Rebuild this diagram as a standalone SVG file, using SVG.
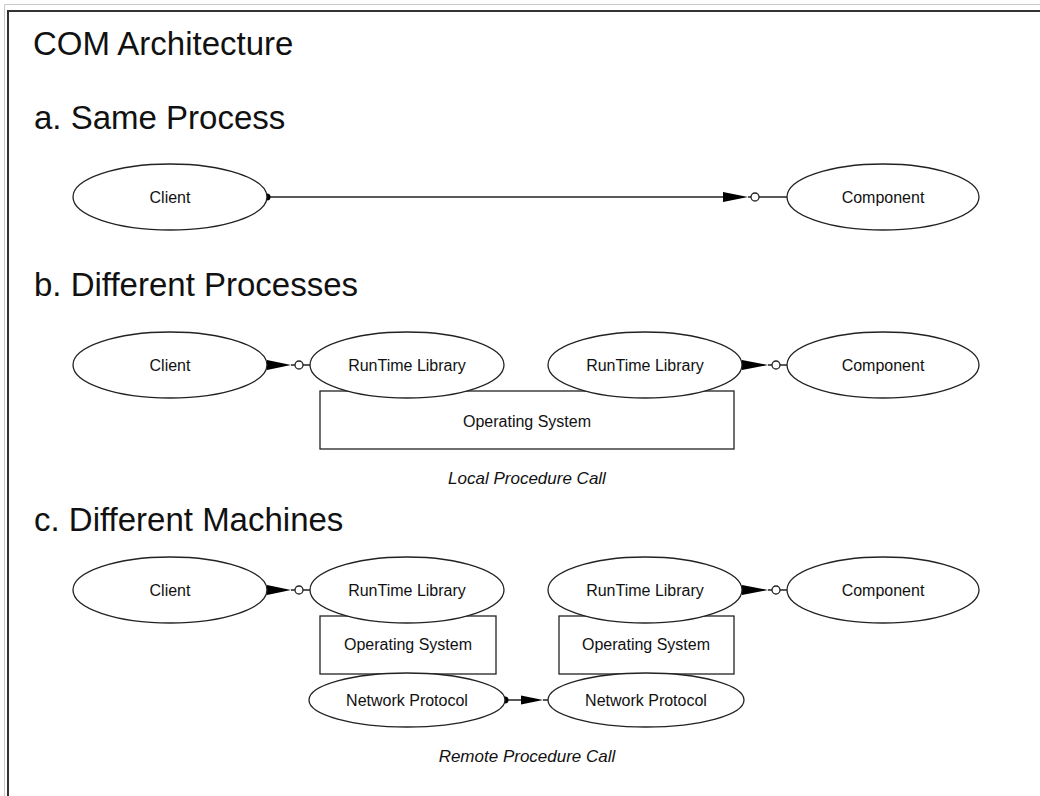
<svg xmlns="http://www.w3.org/2000/svg" width="1040" height="796" viewBox="0 0 1040 796">
<style>
.bg{fill:#fff}
.node ellipse,.node rect{fill:#fff;stroke:#222;stroke-width:1.3}
.lbl{font-family:"Liberation Sans",Arial,sans-serif;font-size:16px;fill:#111;text-anchor:middle;dominant-baseline:central}
.head{font-family:"Liberation Sans",Arial,sans-serif;font-size:33px;fill:#111}
.cap{font-family:"Liberation Sans",Arial,sans-serif;font-size:17px;font-style:italic;fill:#111;text-anchor:middle}
.ln{stroke:#222;stroke-width:1.5;fill:none}
.head-fill{fill:#000;stroke:none}
.ring{fill:#fff;stroke:#222;stroke-width:1.3}
</style>
<rect class="bg" x="0" y="0" width="1040" height="796"/>
<g id="frame">
<path d="M4.5,796 V4.5 H1040" stroke="#c8c8c8" stroke-width="1" fill="none"/>
<path d="M8,796 V11 H1040" stroke="#333" stroke-width="2" fill="none"/>
</g>
<g id="titles">
<text class="head" x="33" y="55">COM Architecture</text>
<text class="head" x="34" y="129">a. Same Process</text>
<text class="head" x="34" y="296">b. Different Processes</text>
<text class="head" x="34" y="531">c. Different Machines</text>
<text class="cap" x="527" y="484">Local Procedure Call</text>
<text class="cap" x="527" y="762">Remote Procedure Call</text>
</g>
<g id="connectors">
<line class="ln" x1="267" y1="197" x2="723" y2="197"/>
<circle class="head-fill" cx="267" cy="197" r="3.5"/>
<polygon class="head-fill" points="723,192 748,197 723,202"/>
<line class="ln" x1="748" y1="197" x2="751" y2="197"/>
<circle class="ring" cx="755" cy="197" r="4"/>
<line class="ln" x1="759" y1="197" x2="787" y2="197"/>
<polygon class="head-fill" points="267,360 291,365 267,370"/>
<line class="ln" x1="291" y1="365" x2="295" y2="365"/>
<circle class="ring" cx="299" cy="365" r="4"/>
<line class="ln" x1="303" y1="365" x2="310" y2="365"/>
<polygon class="head-fill" points="742,360 768,365 742,370"/>
<line class="ln" x1="768" y1="365" x2="772" y2="365"/>
<circle class="ring" cx="776" cy="365" r="4"/>
<line class="ln" x1="780" y1="365" x2="787" y2="365"/>
<polygon class="head-fill" points="267,585 291,590 267,595"/>
<line class="ln" x1="291" y1="590" x2="295" y2="590"/>
<circle class="ring" cx="299" cy="590" r="4"/>
<line class="ln" x1="303" y1="590" x2="310" y2="590"/>
<polygon class="head-fill" points="742,585 768,590 742,595"/>
<line class="ln" x1="768" y1="590" x2="772" y2="590"/>
<circle class="ring" cx="776" cy="590" r="4"/>
<line class="ln" x1="780" y1="590" x2="787" y2="590"/>
<line class="ln" x1="505" y1="700" x2="522" y2="700"/>
<circle class="head-fill" cx="505" cy="700" r="3.5"/>
<polygon class="head-fill" points="521,695.5 543,700 521,704.5"/>
<line class="ln" x1="543" y1="700" x2="548" y2="700"/>
</g>
<g id="a-client" class="node"><ellipse cx="170" cy="197" rx="97" ry="33"/><text class="lbl" x="170" y="197">Client</text></g>
<g id="a-component" class="node"><ellipse cx="883" cy="197" rx="96" ry="33"/><text class="lbl" x="883" y="197">Component</text></g>
<g id="b-os" class="node"><rect x="320" y="391" width="414" height="58"/><text class="lbl" x="527" y="421">Operating System</text></g>
<g id="b-client" class="node"><ellipse cx="170" cy="365" rx="97" ry="33"/><text class="lbl" x="170" y="365">Client</text></g>
<g id="b-rtl1" class="node"><ellipse cx="407" cy="365" rx="97" ry="33"/><text class="lbl" x="407" y="365">RunTime Library</text></g>
<g id="b-rtl2" class="node"><ellipse cx="645" cy="365" rx="97" ry="33"/><text class="lbl" x="645" y="365">RunTime Library</text></g>
<g id="b-component" class="node"><ellipse cx="883" cy="365" rx="96" ry="33"/><text class="lbl" x="883" y="365">Component</text></g>
<g id="c-os1" class="node"><rect x="320" y="616" width="176" height="58"/><text class="lbl" x="408" y="644">Operating System</text></g>
<g id="c-os2" class="node"><rect x="559" y="616" width="175" height="58"/><text class="lbl" x="646" y="644">Operating System</text></g>
<g id="c-client" class="node"><ellipse cx="170" cy="590" rx="97" ry="33"/><text class="lbl" x="170" y="590">Client</text></g>
<g id="c-rtl1" class="node"><ellipse cx="407" cy="590" rx="97" ry="33"/><text class="lbl" x="407" y="590">RunTime Library</text></g>
<g id="c-rtl2" class="node"><ellipse cx="645" cy="590" rx="97" ry="33"/><text class="lbl" x="645" y="590">RunTime Library</text></g>
<g id="c-component" class="node"><ellipse cx="883" cy="590" rx="96" ry="33"/><text class="lbl" x="883" y="590">Component</text></g>
<g id="c-np1" class="node"><ellipse cx="407" cy="700" rx="98" ry="27"/><text class="lbl" x="407" y="700">Network Protocol</text></g>
<g id="c-np2" class="node"><ellipse cx="646" cy="700" rx="98" ry="27"/><text class="lbl" x="646" y="700">Network Protocol</text></g>
</svg>
